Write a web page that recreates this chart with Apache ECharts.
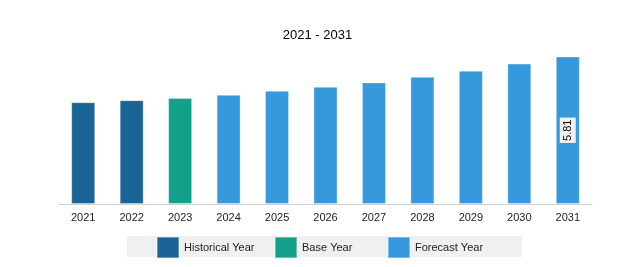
<!DOCTYPE html>
<html>
<head>
<meta charset="utf-8">
<script src="https://cdn.jsdelivr.net/npm/echarts@6/dist/echarts.min.js"></script>
<style>html,body{margin:0;padding:0;background:#fff}#main{width:635px;height:267px}</style>
</head>
<body>
<div id="main"></div>
<script>
var myChart = echarts.init(document.getElementById('main'));

var years = ['2021', '2022', '2023', '2024', '2025', '2026', '2027', '2028', '2029', '2030', '2031'];
var historical = [4.01, 4.09, null, null, null, null, null, null, null, null, null];
var baseYear = [null, null, 4.18, null, null, null, null, null, null, null, null];
var forecast = [null, null, null, 4.30, 4.46, 4.62, 4.79, 5.01, 5.25, 5.53, 5.81];
var names = ['Historical Year', 'Base Year', 'Forecast Year'];
var colors = ['#1a6496', '#13a088', '#3599db'];

var font = 'Liberation Sans';

function legendAt(i, left) {
  return {
    data: [names[i]],
    left: left,
    top: 236,
    padding: 0,
    itemWidth: 22,
    itemHeight: 21,
    itemGap: 8,
    icon: 'rect',
    textStyle: { fontFamily: font, fontSize: 11, color: '#222' }
  };
}

function barSeries(i, values) {
  return {
    name: names[i],
    type: 'bar',
    stack: 'all',
    barWidth: 24,
    data: values,
    itemStyle: { color: colors[i], borderColor: 'rgba(255,255,255,0.35)', borderWidth: 1 }
  };
}

// only the last forecast bar carries a value label
var last = forecast.length - 1;
var forecastData = forecast.map(function (v, i) {
  if (i !== last) return v;
  return {
    value: v,
    label: {
      show: true,
      position: 'inside',
      rotate: 90,
      fontFamily: font,
      fontSize: 11,
      color: '#000',
      backgroundColor: '#f0f0f0',
      padding: [3, 2, 2, 2],
      formatter: function (p) { return p.value.toFixed(2); }
    }
  };
});

var option = {
  animation: false,
  title: {
    text: '2021 - 2031',
    left: 'center',
    top: 24,
    textStyle: { fontFamily: font, fontSize: 13, fontWeight: 'normal', color: '#000' }
  },
  graphic: [{
    type: 'rect',
    shape: { x: 127, y: 236, width: 395, height: 21 },
    style: { fill: '#f0f0f0' },
    z: -1
  }],
  legend: [legendAt(0, 156), legendAt(1, 274), legendAt(2, 387)],
  grid: { left: 59, right: 43, top: 39, bottom: 63 },
  xAxis: {
    type: 'category',
    data: years,
    axisLine: { lineStyle: { color: '#d0d0d0' } },
    axisTick: { length: 4, lineStyle: { color: '#d0d0d0' } },
    axisLabel: { fontFamily: font, fontSize: 11, color: '#222', margin: 8 }
  },
  yAxis: {
    type: 'value',
    min: 0,
    max: 6.5,
    show: false
  },
  series: [barSeries(0, historical), barSeries(1, baseYear), barSeries(2, forecastData)]
};
myChart.setOption(option);
</script>
</body>
</html>
